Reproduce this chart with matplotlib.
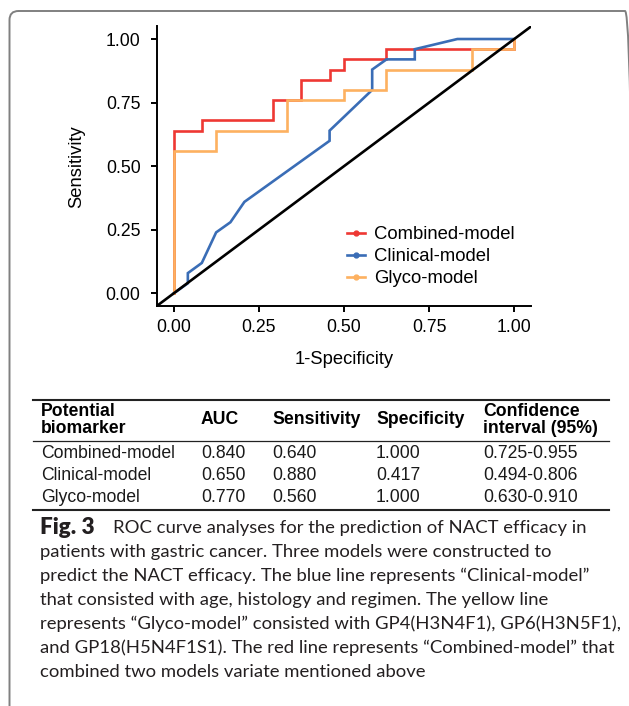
import matplotlib
matplotlib.use('Agg')
import matplotlib.pyplot as plt
from matplotlib.lines import Line2D
from matplotlib.patches import FancyBboxPatch
from matplotlib.transforms import Affine2D, IdentityTransform

plt.rcParams['font.family'] = ['Liberation Sans', 'DejaVu Sans']

W, H, DPI = 629, 706, 100

# ---------------- data ----------------
model_names = ['Combined-model', 'Clinical-model', 'Glyco-model']
model_colors = ['#EE3833', '#3A6DB6', '#FDB160']

combined_fpr = [0, 0, 0.083, 0.083, 0.292, 0.292, 0.375, 0.375, 0.458, 0.458,
                0.500, 0.500, 0.625, 0.625, 1.000, 1.000]
combined_tpr = [0, 0.64, 0.64, 0.68, 0.68, 0.76, 0.76, 0.84, 0.84, 0.88,
                0.88, 0.92, 0.92, 0.96, 0.96, 1.00]

clinical_fpr = [0, 0.042, 0.042, 0.083, 0.125, 0.167, 0.208, 0.458, 0.458,
                0.583, 0.583, 0.625, 0.708, 0.708, 0.833, 1.000]
clinical_tpr = [0, 0.04, 0.08, 0.12, 0.24, 0.28, 0.36, 0.60, 0.64,
                0.80, 0.88, 0.92, 0.92, 0.96, 1.00, 1.00]

glyco_fpr = [0, 0, 0.125, 0.125, 0.333, 0.333, 0.500, 0.500, 0.625, 0.625,
             0.875, 0.875, 1.000, 1.000]
glyco_tpr = [0, 0.56, 0.56, 0.64, 0.64, 0.76, 0.76, 0.80, 0.80, 0.88,
             0.88, 0.96, 0.96, 1.00]

axis_ticks = [0.0, 0.25, 0.50, 0.75, 1.00]
axis_tick_labels = ['0.00', '0.25', '0.50', '0.75', '1.00']

table_header = ['Potential\nbiomarker', 'AUC', 'Sensitivity', 'Specificity',
                'Confidence\ninterval (95%)']
table_models = ['Combined-model', 'Clinical-model', 'Glyco-model']
table_auc = ['0.840', '0.650', '0.770']
table_sens = ['0.640', '0.880', '0.560']
table_spec = ['1.000', '0.417', '1.000']
table_ci = ['0.725-0.955', '0.494-0.806', '0.630-0.910']

caption_bold = 'Fig. 3'
caption_lines = [
    'ROC curve analyses for the prediction of NACT efficacy in',
    'patients with gastric cancer. Three models were constructed to',
    'predict the NACT efficacy. The blue line represents \u201cClinical-model\u201d',
    'that consisted with age, histology and regimen. The yellow line',
    'represents \u201cGlyco-model\u201d consisted with GP4(H3N4F1), GP6(H3N5F1),',
    'and GP18(H5N4F1S1). The red line represents \u201cCombined-model\u201d that',
    'combined two models variate mentioned above',
]

# ---------------- figure ----------------
fig = plt.figure(figsize=(W / DPI, H / DPI), dpi=DPI)
fig.patch.set_facecolor('white')
# pixel transform: (x from left, y from top) -> figure
PX = Affine2D().scale(1.0 / W, -1.0 / H).translate(0, 1) + fig.transFigure

# outer rounded frame (page box, cropped at right and bottom)
frame = FancyBboxPatch((9.5, -30), 624.5, (H - 11) + 30,
                       boxstyle='round,pad=0,rounding_size=9',
                       transform=IdentityTransform(), facecolor='none',
                       edgecolor='#808080', linewidth=1.4, zorder=0)
fig.patches.append(frame)

# ---------------- ROC axes ----------------
ax_l, ax_r, ax_t, ax_b = 156.5, 531.3, 26.3, 306.2
ax = fig.add_axes([ax_l / W, 1 - ax_b / H, (ax_r - ax_l) / W, (ax_b - ax_t) / H])
ax.set_xlim(-0.05, 1.05)
ax.set_ylim(-0.05, 1.05)

curves = [(combined_fpr, combined_tpr), (clinical_fpr, clinical_tpr), (glyco_fpr, glyco_tpr)]
for i, ((fx, ty), name, col) in enumerate(zip(curves, model_names, model_colors)):
    ax.plot(fx, ty, color=col, lw=1.9, solid_joinstyle='miter', zorder=2 + i,
            label=name)
ax.axline((0, 0), slope=1, color='black', lw=1.9, zorder=6)

for s in ['top', 'right']:
    ax.spines[s].set_visible(False)
for s in ['left', 'bottom']:
    ax.spines[s].set_linewidth(1.4)
    ax.spines[s].set_color('black')

ax.set_xticks(axis_ticks)
ax.set_xticklabels(axis_tick_labels)
ax.set_yticks(axis_ticks)
ax.set_yticklabels(axis_tick_labels)
ax.tick_params(axis='both', length=4.5, width=1.4, color='black',
               labelsize=12.7, labelcolor='black')
ax.tick_params(axis='x', pad=5.0)
ax.tick_params(axis='y', pad=7.0)

ax.set_xlabel('1-Specificity', fontsize=13.2)
ax.set_ylabel('Sensitivity', fontsize=13.2)
ax.xaxis.set_label_coords(0.5, -0.192)
ax.xaxis.label.set_va('center')
ax.yaxis.set_label_coords(-0.213, 0.5)
ax.yaxis.label.set_va('center')

handles = [Line2D([], [], color=c, lw=1.9, marker='o', markersize=3.5)
           for c in model_colors]
fig.legend(handles, model_names, loc='upper left',
           bbox_to_anchor=(347 / W, 1 - 226 / H), frameon=False,
           fontsize=13.3, handlelength=1.0, handletextpad=0.45,
           labelspacing=0.27, borderpad=0, borderaxespad=0)

# ---------------- table ----------------
col_x = [41, 201, 272, 376, 483]
tfs = 12.7
fig.add_artist(Line2D([33, 609], [400, 400], transform=PX, color='#222222', lw=1.5))
fig.add_artist(Line2D([33, 609], [441, 441], transform=PX, color='#222222', lw=0.9))
fig.add_artist(Line2D([33, 609], [510, 510], transform=PX, color='#222222', lw=1.5))
for x, t in zip(col_x, table_header):
    fig.text(x, 420, t, transform=PX, fontsize=tfs, fontweight='bold',
             ha='left', va='center', linespacing=0.95)
row_y = [453, 475, 497]
for r, y in enumerate(row_y):
    vals = [table_models[r], table_auc[r], table_sens[r], table_spec[r], table_ci[r]]
    for x, v in zip(col_x, vals):
        fig.text(x, y, v, transform=PX, fontsize=tfs, ha='left', va='center',
                 color='#1a1a1a')

# ---------------- caption ----------------
cap_font = ['Lato', 'DejaVu Sans']
renderer = fig.canvas.get_renderer()
probe = fig.text(40, 648, caption_lines[5], transform=PX, fontsize=12,
                 family=cap_font)
wpx = probe.get_window_extent(renderer).width
cap_fs = 12 * 572.0 / wpx
probe.remove()

probe_b = fig.text(40, 528, caption_bold, transform=PX, fontsize=12,
                   family=cap_font, fontweight='heavy')
wb = probe_b.get_window_extent(renderer).width
bold_fs = min(12 * 62.0 / wb, cap_fs * 1.22)
probe_b.remove()

cap_y = [528, 552, 576, 600, 624, 648, 672]
fig.text(40, cap_y[0], caption_bold, transform=PX, fontsize=bold_fs,
         family=cap_font, fontweight='heavy', va='center', color='#231f20')
for i, (y, line) in enumerate(zip(cap_y, caption_lines)):
    x0 = 113 if i == 0 else 40
    fig.text(x0, y, line, transform=PX, fontsize=cap_fs, family=cap_font,
             va='center', color='#231f20')

fig.savefig('out.png', dpi=DPI)
